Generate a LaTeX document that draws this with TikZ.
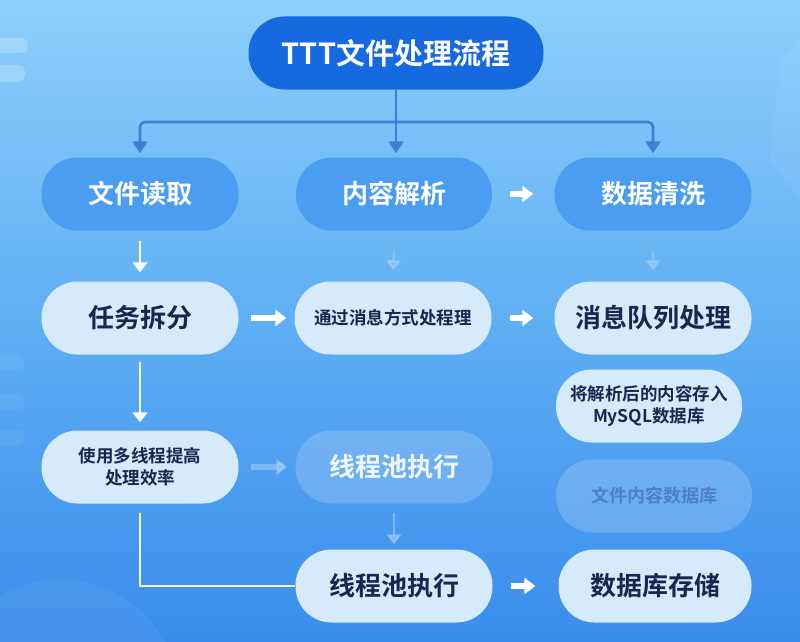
\documentclass[tikz,border=0pt]{standalone}
\usepackage{fontspec}
\setmainfont{Noto Sans CJK SC}[UprightFont=* Bold]
\usetikzlibrary{arrows.meta}
\definecolor{bgtop}{HTML}{8DCFFA}
\definecolor{bgmid}{HTML}{5FAFF4}
\definecolor{bgbot}{HTML}{3A8CEC}
\definecolor{titleblue}{HTML}{1769E0}
\definecolor{midblue}{HTML}{4A9DF0}
\definecolor{paleblue}{HTML}{D5EBFC}
\definecolor{navy}{HTML}{16284F}
\definecolor{branchblue}{HTML}{3D7FD3}
\definecolor{fadetext}{HTML}{4F80C2}
\tikzset{
  x=1pt,y=-1pt,
  pill/.style={rectangle, rounded corners=36pt, minimum height=73pt, minimum width=197pt, align=center, inner sep=0pt},
  titlebox/.style={pill, fill=titleblue, text=white, minimum width=295pt, font=\fontsize{29}{32}\selectfont},
  midbox/.style={pill, fill=midblue, text=white, font=\fontsize{26}{30}\selectfont},
  palebox/.style={pill, fill=paleblue, text=navy, font=\fontsize{26}{30}\selectfont},
  smalltext/.style={font=\fontsize{17.5}{24}\selectfont},
  fadebox/.style={pill, fill=white, fill opacity=0.18, text opacity=1},
  branch/.style={draw=branchblue, line width=2.6pt, -{Triangle[length=12pt,width=15pt]}, shorten >=4pt},
  bigarrow/.style={draw=white, line width=5.5pt, -{Triangle[length=11pt,width=16pt]}},
  thinarrow/.style={draw=white!85!paleblue, line width=2pt, -{Triangle[length=10pt,width=15pt]}},
}
\begin{document}
\begin{tikzpicture}
\useasboundingbox (0,0) rectangle (800,642);
\shade[top color=bgtop, bottom color=bgbot, middle color=bgmid] (0,0) rectangle (800,642);
% decorative background shapes
\fill[white, opacity=0.22, rounded corners=7pt] (-12,38) rectangle (28,53);
\fill[white, opacity=0.22, rounded corners=7pt] (-12,65) rectangle (25,82);
\fill[white, opacity=0.06, rounded corners=7pt] (-12,354) rectangle (24,370);
\fill[white, opacity=0.06, rounded corners=7pt] (-12,394) rectangle (24,410);
\fill[white, opacity=0.06, rounded corners=7pt] (-12,430) rectangle (24,446);
\fill[white, opacity=0.05] (60,700) circle (120);
\fill[white, opacity=0.05] (780,60) -- (800,40) -- (800,200) -- (770,160) -- cycle;

% nodes
\node[titlebox] (title) at (396,53) {TTT文件处理流程};

\node[midbox] (n1) at (140,194) {文件读取};
\node[midbox, minimum width=196pt] (n2) at (394,194) {内容解析};
\node[midbox] (n3) at (653,194) {数据清洗};

\node[palebox] (m1) at (140,318) {任务拆分};
\node[palebox, smalltext] (m2) at (393,318) {通过消息方式处程理};
\node[palebox] (m3) at (653,318) {消息队列处理};

\node[palebox, smalltext, minimum width=186pt] (k3) at (649,406) {将解析后的内容存入\\[-2pt]MySQL数据库};
\node[palebox, smalltext] (k1) at (140,467) {使用多线程提高\\[-2pt]处理效率};
\node[fadebox, text=white!92!midblue, font=\fontsize{26}{30}\selectfont] (k2) at (394,467) {线程池执行};
\node[fadebox, text=fadetext, font=\fontsize{18}{24}\selectfont, minimum width=196pt] (j3) at (654,496) {文件内容数据库};

\node[palebox] (p2) at (394,586) {线程池执行};
\node[palebox, minimum width=193pt] (p3) at (655,586) {数据库存储};

% branch connectors
\coordinate (br) at (396,122);
\draw[branch] (title.south) -- (title.south |- n2.north);
\draw[branch, rounded corners=5pt] (br) -| (n1.north);
\draw[branch, rounded corners=5pt] (br) -| (n3.north);

% horizontal big white arrows
\draw[bigarrow] ([xshift=18pt]n2.east) -- ([xshift=-21pt]n3.west);
\draw[bigarrow] ([xshift=12pt]m1.east) -- ([xshift=-8pt]m2.west);
\draw[bigarrow] ([xshift=18pt]m2.east) -- ([xshift=-21pt]m3.west);
\draw[bigarrow] ([xshift=18pt]p2.east) -- ([xshift=-23pt]p3.west);
\draw[bigarrow, opacity=0.28] ([xshift=12pt]k1.east) -- ([xshift=-8pt]k2.west);

% vertical arrows (yshift is in page direction: negative = downwards)
\draw[thinarrow] ([yshift=-10pt]n1.south) -- ([yshift=9pt]m1.north);
\draw[thinarrow, opacity=0.2] ([yshift=-20pt]n2.south) -- ([yshift=11pt]m2.north);
\draw[thinarrow, opacity=0.2] ([yshift=-20pt]n3.south) -- ([yshift=11pt]m3.north);
\draw[thinarrow] ([yshift=-7pt]m1.south) -- ([yshift=8pt]k1.north);
\draw[thinarrow, opacity=0.3] ([yshift=-9pt]k2.south) -- ([yshift=5pt]p2.north);

% elbow connector
\draw[draw=white!85!paleblue, line width=2pt] ([yshift=-9pt]k1.south) |- (p2.west);
\end{tikzpicture}
\end{document}
